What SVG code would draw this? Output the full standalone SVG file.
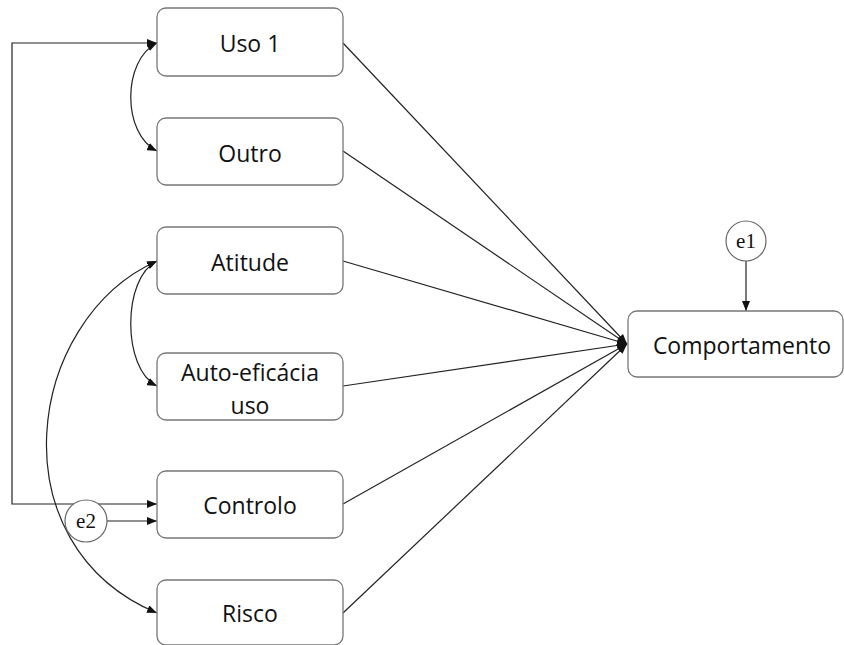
<svg xmlns="http://www.w3.org/2000/svg" width="844" height="645" viewBox="0 0 844 645">
<style>
.box{fill:#fff;stroke:#777;stroke-width:1.3}
.lbl{font-family:"Open Sans","Liberation Sans",sans-serif;font-size:23px;fill:#111;text-anchor:middle}
.err{fill:#fff;stroke:#666;stroke-width:1.2}
.elbl{font-family:"Liberation Serif","DejaVu Serif",serif;font-size:21px;fill:#111;text-anchor:middle}
.c{fill:none;stroke:#222;stroke-width:1.2}
</style>
<defs>
<marker id="ah" viewBox="0 0 10 8" refX="10" refY="4" markerWidth="10" markerHeight="8" markerUnits="userSpaceOnUse" orient="auto-start-reverse">
<path d="M0,0 L10,4 L0,8 Z" fill="#111"/>
</marker>
</defs>
<rect width="844" height="645" fill="#fff"/>
<g id="connectors">
<path class="c" d="M157,43 H12 V504 H157" marker-start="url(#ah)" marker-end="url(#ah)"/>
<path class="c" d="M157,43 C122,60 122,134 157,151" marker-start="url(#ah)" marker-end="url(#ah)"/>
<path class="c" d="M157,261 C122,278 122,369 157,386" marker-start="url(#ah)" marker-end="url(#ah)"/>
<path class="c" d="M157,261 C25,320 -5,545 157,613" marker-start="url(#ah)" marker-end="url(#ah)"/>
<path class="c" d="M107,521 H157" marker-end="url(#ah)"/>
<path class="c" d="M746,261 V311" marker-end="url(#ah)"/>
<path class="c" d="M343,43 L627,344" marker-end="url(#ah)"/>
<path class="c" d="M343,151 L627,344" marker-end="url(#ah)"/>
<path class="c" d="M343,261 L627,344" marker-end="url(#ah)"/>
<path class="c" d="M343,386 L627,344" marker-end="url(#ah)"/>
<path class="c" d="M343,504 L627,344" marker-end="url(#ah)"/>
<path class="c" d="M343,613 L627,344" marker-end="url(#ah)"/>
</g>
<g id="uso1"><rect class="box" x="157" y="8" width="186" height="68" rx="9"/><text class="lbl" x="250" y="52">Uso 1</text></g>
<g id="outro"><rect class="box" x="157" y="118" width="186" height="67" rx="9"/><text class="lbl" x="250" y="162">Outro</text></g>
<g id="atitude"><rect class="box" x="157" y="227" width="186" height="67" rx="9"/><text class="lbl" x="250" y="271">Atitude</text></g>
<g id="autoeficacia"><rect class="box" x="157" y="353" width="186" height="67" rx="9"/><text class="lbl" x="250" y="381">Auto-eficácia</text><text class="lbl" x="250" y="414">uso</text></g>
<g id="controlo"><rect class="box" x="157" y="471" width="186" height="67" rx="9"/><text class="lbl" x="250" y="514">Controlo</text></g>
<g id="risco"><rect class="box" x="157" y="580" width="186" height="65" rx="9"/><text class="lbl" x="250" y="622">Risco</text></g>
<g id="comportamento"><rect class="box" x="628" y="311" width="215" height="66" rx="9"/><text class="lbl" x="742" y="354">Comportamento</text></g>
<g id="e1"><circle class="err" cx="746" cy="241" r="20"/><text class="elbl" x="746" y="248">e1</text></g>
<g id="e2"><circle class="err" cx="86" cy="521" r="21"/><text class="elbl" x="86" y="528">e2</text></g>
</svg>
